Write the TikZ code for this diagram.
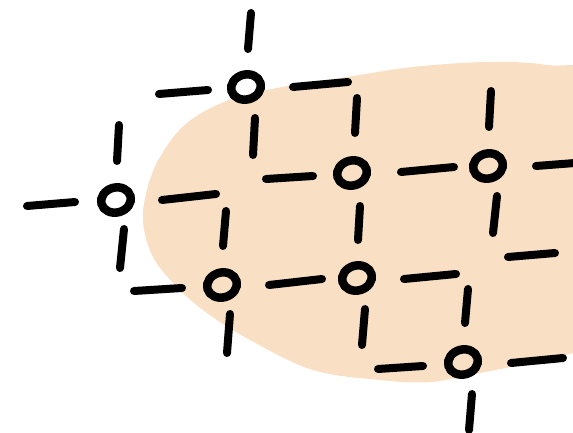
\documentclass[tikz,border=0pt]{standalone}
\usetikzlibrary{shapes.geometric}
\definecolor{peach}{HTML}{F9DFC3}
\tikzset{
  ring/.style={draw=black, ellipse, line width=8.5pt, inner sep=0pt,
    minimum width=30pt, minimum height=25pt, rotate=15},
  stub/.style={line width=8pt, line cap=round, black}
}
\begin{document}
\begin{tikzpicture}[x=1pt, y=-1pt]
    \useasboundingbox (0,0) rectangle (573,433);
    \clip (0,0) rectangle (573,433);

    % Background blob
    \fill[peach] plot[smooth cycle, tension=0.6] coordinates {
      (293,85) (347,77) (413,67) (487,62) (547,65) (600,80) (625,200)
      (600,345) (573,353) (530,363) (480,373) (430,382) (380,380)
      (313,370) (250,340) (207,313) (177,287) (153,257) (143,222)
      (147,190) (160,157) (187,123) (232,99)};

    % Rings
    \node[ring] (a) at (246,87) {};
    \node[ring] (b) at (116,200) {};
    \node[ring] (c) at (352,173) {};
    \node[ring] (d) at (488,166) {};
    \node[ring] (e) at (222,285) {};
    \node[ring] (f) at (357,278) {};
    \node[ring] (g) at (463,362) {};

    % Horizontal stubs
    \draw[stub] (27,206) -- (75,202);
    \draw[stub] (159,94) -- (208,90);
    \draw[stub] (293,87) -- (348,82);
    \draw[stub] (162,200) -- (216,194);
    \draw[stub] (266,179) -- (313,176);
    \draw[stub] (401,172) -- (454,167);
    \draw[stub] (536,166) -- (575,163);
    \draw[stub] (134,291) -- (182,288);
    \draw[stub] (269,285) -- (322,279);
    \draw[stub] (404,279) -- (456,274);
    \draw[stub] (508,257) -- (555,253);
    \draw[stub] (378,369) -- (423,366);
    \draw[stub] (511,363) -- (563,358);

    % Vertical stubs
    \draw[stub] (251,13) -- (248,49);
    \draw[stub] (119,125) -- (117,161);
    \draw[stub] (255,118) -- (253,155);
    \draw[stub] (357,98) -- (355,133);
    \draw[stub] (491,91) -- (489,127);
    \draw[stub] (124,229) -- (120,268);
    \draw[stub] (226,211) -- (223,246);
    \draw[stub] (360,206) -- (358,240);
    \draw[stub] (497,196) -- (493,233);
    \draw[stub] (230,314) -- (227,353);
    \draw[stub] (365,309) -- (362,345);
    \draw[stub] (468,289) -- (465,323);
    \draw[stub] (472,394) -- (469,430);
  \end{tikzpicture}
\end{document}
